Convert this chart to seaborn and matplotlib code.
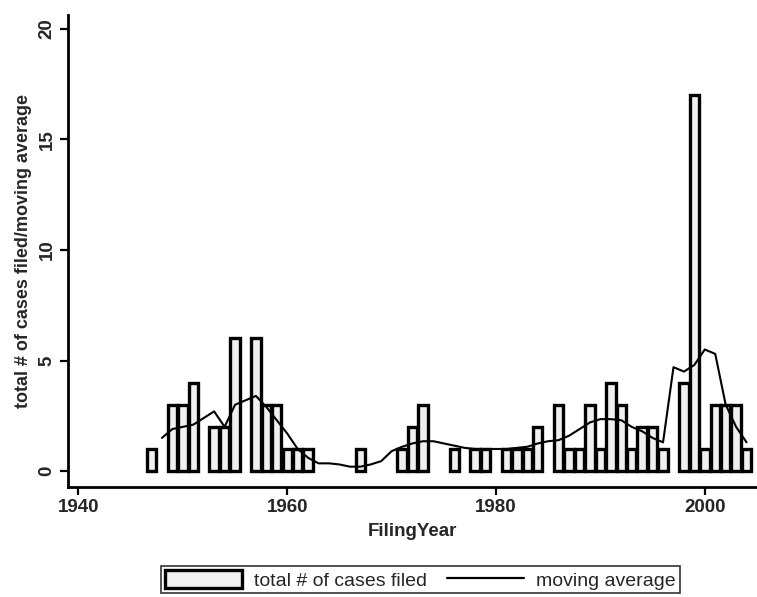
import matplotlib
matplotlib.use("Agg")
import matplotlib.pyplot as plt
import seaborn as sns
import pandas as pd
from matplotlib.patches import Patch
from matplotlib.lines import Line2D

# ---- data ----
bar_years = [1947, 1949, 1950, 1951, 1953, 1954, 1955, 1957, 1958, 1959, 1960, 1961, 1962,
             1967, 1971, 1972, 1973, 1976, 1978, 1979, 1981, 1982, 1983, 1984,
             1986, 1987, 1988, 1989, 1990, 1991, 1992, 1993, 1994, 1995, 1996,
             1998, 1999, 2000, 2001, 2002, 2003, 2004]
cases_filed = [1, 3, 3, 4, 2, 2, 6, 6, 3, 3, 1, 1, 1,
               1, 1, 2, 3, 1, 1, 1, 1, 1, 1, 2,
               3, 1, 1, 3, 1, 4, 3, 1, 2, 2, 1,
               4, 17, 1, 3, 3, 3, 1]

ma_years = [1948, 1949, 1950, 1951, 1952, 1953, 1954, 1955, 1956, 1957, 1958, 1959, 1960,
            1961, 1962, 1963, 1964, 1965, 1966, 1967, 1968, 1969, 1970, 1971, 1972, 1973,
            1974, 1975, 1976, 1977, 1978, 1979, 1980, 1981, 1982, 1983, 1984, 1985, 1986,
            1987, 1988, 1989, 1990, 1991, 1992, 1993, 1994, 1995, 1996, 1997, 1998, 1999,
            2000, 2001, 2002, 2003, 2004]
moving_avg = [1.5, 1.9, 2.0, 2.1, 2.4, 2.7, 2.0, 3.0, 3.2, 3.4, 2.9, 2.3, 1.7,
              1.0, 0.6, 0.35, 0.35, 0.3, 0.2, 0.2, 0.3, 0.45, 0.9, 1.1, 1.25, 1.35,
              1.35, 1.25, 1.15, 1.05, 1.0, 1.0, 1.0, 1.0, 1.05, 1.1, 1.25, 1.35, 1.4,
              1.6, 1.9, 2.2, 2.35, 2.35, 2.3, 2.0, 1.8, 1.5, 1.3, 4.7, 4.5, 4.8,
              5.5, 5.3, 3.0, 2.0, 1.3]

x_ticks = [1940, 1960, 1980, 2000]
y_ticks = [0, 5, 10, 15, 20]

bars_df = pd.DataFrame({"FilingYear": bar_years, "cases": cases_filed})
ma_df = pd.DataFrame({"FilingYear": ma_years, "ma": moving_avg})

sns.set_theme(style="white")
plt.rcParams["font.family"] = ["Liberation Sans", "DejaVu Sans"]

fig = plt.figure(figsize=(7.57, 5.97), dpi=100)
ax = fig.add_axes([68 / 757, 1 - 487 / 597, 689 / 757, 472 / 597])

sns.barplot(data=bars_df, x="FilingYear", y="cases", native_scale=True, width=0.9,
            color="#f0f0f0", edgecolor="black", linewidth=2.4, saturation=1, ax=ax,
            errorbar=None)
for p in ax.patches:
    p.set_facecolor("#f0f0f0")
sns.lineplot(data=ma_df, x="FilingYear", y="ma", color="black", linewidth=1.5, ax=ax)

ax.set_xlim(1939.0, 2005.0)
ax.set_ylim(-0.72, 20.63)
ax.set_xticks(x_ticks)
ax.set_yticks(y_ticks)
ax.set_xticklabels([str(t) for t in x_ticks], fontsize=13.5, fontweight="bold")
ax.set_yticklabels([str(t) for t in y_ticks], fontsize=13.5, rotation=90, va="center",
                   fontweight="bold")
ax.tick_params(axis="both", direction="out", length=6, width=1.6, color="black",
               bottom=True, left=True, pad=3)
for side in ["top", "right"]:
    ax.spines[side].set_visible(False)
for side in ["left", "bottom"]:
    ax.spines[side].set_color("black")
    ax.spines[side].set_linewidth(2.0)

ax.set_xlabel("FilingYear", fontsize=13.5, fontweight="bold", labelpad=5)
ax.set_ylabel("total # of cases filed/moving average", fontsize=13, fontweight="bold",
              labelpad=5)

handles = [Patch(facecolor="#f0f0f0", edgecolor="black", linewidth=2.4),
           Line2D([0], [0], color="black", linewidth=1.6)]
labels = ["total # of cases filed", "moving average"]
leg = fig.legend(handles, labels, ncol=2, loc="lower center",
                 bbox_to_anchor=(0.555, 0.006),
                 frameon=True, fancybox=False, edgecolor="black", fontsize=14,
                 handlelength=4.0, handleheight=1.0, borderpad=0.2, columnspacing=1.0,
                 handletextpad=0.6, borderaxespad=0)
leg.get_frame().set_linewidth(1.2)

fig.savefig("out.png", dpi=100)
